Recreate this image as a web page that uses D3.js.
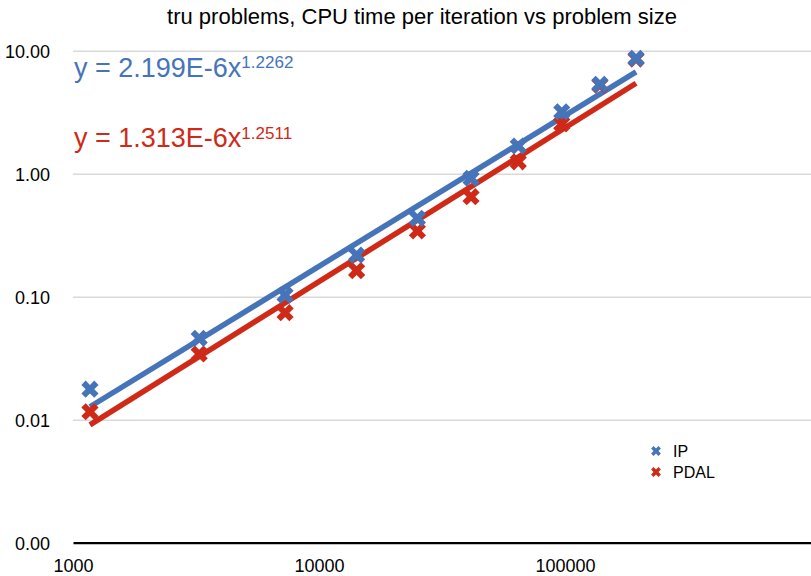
<!DOCTYPE html>
<html>
<head>
<meta charset="utf-8">
<script src="https://cdn.jsdelivr.net/npm/d3@7"></script>
<style>
  body { margin:0; background:#fff; }
  svg text { font-family: "Liberation Sans", Arial, Helvetica, sans-serif; fill:#000; }
</style>
</head>
<body>
<div id="chart"></div>
<script>
// problem sizes (x) and CPU seconds per iteration
const sizes = [1172, 3258, 7278, 14220, 25120, 41500, 64570, 97000, 138700, 194500];
const ipTime = [0.0177, 0.0459, 0.103, 0.218, 0.434, 0.918, 1.68, 3.19, 5.33, 8.67];
const pdalTime = [0.0116, 0.0342, 0.0741, 0.163, 0.342, 0.650, 1.25, 2.54, 5.25, 8.55];

// power-law fits y = a*x^b, as printed on the chart
const seriesNames = ["IP", "PDAL"];
const fitCoef = [2.199e-6, 1.313e-6];
const fitExp = [1.2262, 1.2511];
const fitCoefLabel = ["2.199E-6", "1.313E-6"];
const fitExpLabel = ["1.2262", "1.2511"];

const xTicks = [1000, 10000, 100000];
const yTicks = [0.001, 0.01, 0.1, 1, 10];

const colors = ["#4674b9", "#cf2a17"];

const W = 811, H = 576;
const m = { top:50.7, right:0, bottom:33.3, left:73 };
const iw = W - m.left - m.right, ih = H - m.top - m.bottom;

const svg = d3.select("#chart").append("svg").attr("width", W).attr("height", H);
const g = svg.append("g").attr("transform", `translate(${m.left},${m.top})`);

const x = d3.scaleLog().domain([1000, 1000000]).range([0, iw]);
const y = d3.scaleLog().domain([0.001, 10]).range([ih, 0]);

// gridlines + y labels
const gy = g.append("g").call(d3.axisLeft(y).tickValues(yTicks).tickFormat(d3.format(".2f"))
    .tickSize(-iw).tickPadding(23));
gy.select(".domain").remove();
gy.selectAll(".tick line").attr("stroke", "#d9d9d9").attr("stroke-width", 1.6)
  .filter(d => d === 0.001).remove();
gy.selectAll(".tick text").attr("font-size", 18).attr("dy", "0.4em");

// x axis
const gx = g.append("g").attr("transform", `translate(0,${ih})`)
  .call(d3.axisBottom(x).tickValues(xTicks).tickFormat(d3.format("d")).tickSize(0).tickPadding(17));
gx.select(".domain").attr("stroke", "#000").attr("stroke-width", 2.2);
gx.selectAll(".tick text").attr("font-size", 18);

// title
svg.append("text").attr("x", 422).attr("y", 24).attr("text-anchor", "middle")
  .attr("font-size", 22).text("tru problems, CPU time per iteration vs problem size");

const series = [ipTime, pdalTime];

// trend lines over the data range
const line = d3.line().x(d => x(d[0])).y(d => y(d[1]));
[1, 0].forEach(i => {
  const ends = [sizes[0], sizes[sizes.length - 1]].map(s => [s, fitCoef[i] * Math.pow(s, fitExp[i])]);
  g.append("path").datum(ends).attr("d", line)
    .attr("fill", "none").attr("stroke", colors[i]).attr("stroke-width", 5.5);
});

// X markers (cross rotated 45deg)
const mark = d3.symbol(d3.symbolCross).size(185);
[1, 0].forEach(i => {
  g.selectAll(null).data(series[i]).enter().append("path")
    .attr("d", mark)
    .attr("transform", (d, k) => `translate(${x(sizes[k])},${y(d)}) rotate(45)`)
    .attr("fill", colors[i]);
});

// fit equations
const eqY = [76.5, 147];
seriesNames.forEach((nm, i) => {
  const t = svg.append("text").attr("x", 74).attr("y", eqY[i]).attr("fill", colors[i])
    .style("fill", colors[i]).attr("font-size", 27);
  t.append("tspan").text(`y = ${fitCoefLabel[i]}x`);
  t.append("tspan").attr("font-size", 17).attr("dy", -8.5).text(fitExpLabel[i]);
});

// legend
const legMark = d3.symbol(d3.symbolCross).size(60);
seriesNames.forEach((nm, i) => {
  const ly = 451 + i * 21;
  svg.append("path").attr("d", legMark)
    .attr("transform", `translate(656,${ly}) rotate(45)`).attr("fill", colors[i]);
  svg.append("text").attr("x", 673).attr("y", ly + 6).attr("font-size", 16).text(nm);
});
</script>
</body>
</html>
